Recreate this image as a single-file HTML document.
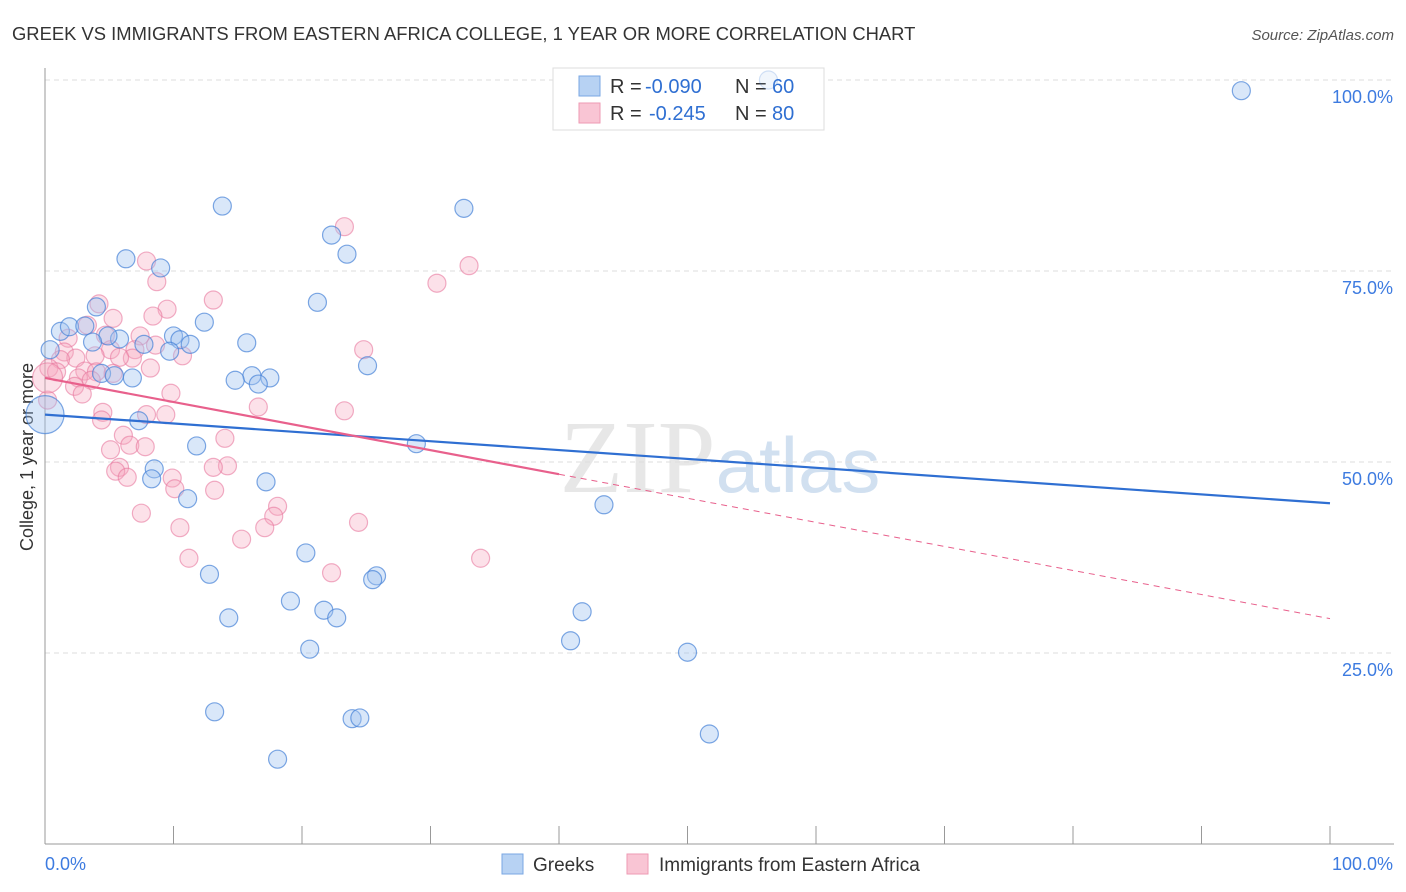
<!DOCTYPE html>
<html><head><meta charset="utf-8"><style>
body{margin:0;background:#fff;font-family:"Liberation Sans",sans-serif}
svg{display:block}
</style></head><body>
<svg id="chart" width="1406" height="892">
<text x="12" y="40" font-size="18.4" fill="#333">GREEK VS IMMIGRANTS FROM EASTERN AFRICA COLLEGE, 1 YEAR OR MORE CORRELATION CHART</text>
<text x="1394" y="40" font-size="15" fill="#555" font-style="italic" text-anchor="end">Source: ZipAtlas.com</text>
<text x="720" y="492" font-size="104" fill="#ccc" opacity="0.45" font-family="Liberation Serif,serif" text-anchor="middle">ZIP<tspan fill="#9bbbe0" font-family="Liberation Sans,sans-serif" font-size="78">atlas</tspan></text>
<text transform="translate(33,457) rotate(-90)" font-size="18" fill="#333" text-anchor="middle">College, 1 year or more</text>
<g id="grid"></g>
<g>
<rect x="553" y="68" width="271" height="62" fill="#fff" stroke="#ddd"/>
<rect x="579" y="76" width="21" height="20" fill="#b7d2f3" stroke="#7aa7e3"/>
<rect x="579" y="103" width="21" height="20" fill="#f9c5d4" stroke="#ee9ab3"/>
<text x="610" y="93" font-size="20" fill="#333">R =</text>
<text x="645" y="93" font-size="20" fill="#2f6fd2">-0.090</text>
<text x="735" y="93" font-size="20" fill="#333">N =</text>
<text x="772" y="93" font-size="20" fill="#2f6fd2">60</text>
<text x="610" y="120" font-size="20" fill="#333">R =</text>
<text x="649" y="120" font-size="20" fill="#2f6fd2">-0.245</text>
<text x="735" y="120" font-size="20" fill="#333">N =</text>
<text x="772" y="120" font-size="20" fill="#2f6fd2">80</text>
</g>
<g id="pts"></g><g id="lines"></g>
<g>
<rect x="502" y="854" width="21" height="20" fill="#b7d2f3" stroke="#7aa7e3"/>
<text x="533" y="871" font-size="19" fill="#333">Greeks</text>
<rect x="627" y="854" width="21" height="20" fill="#f9c5d4" stroke="#ee9ab3"/>
<text x="659" y="871" font-size="19" fill="#333">Immigrants from Eastern Africa</text>
</g>
</svg>
<script>
const blueX=[56.3,93.1,13.8,32.6,22.3,23.5,6.3,9.0,21.2,4.0,12.4,1.2,1.9,3.1,10.0,5.8,4.9,10.5,11.3,3.7,7.7,15.7,9.7,0.4,25.1,4.4,6.8,16.1,17.5,14.8,16.6,5.4,0,7.3,28.9,11.8,8.5,8.3,17.2,11.1,43.5,20.3,12.8,25.8,25.5,19.1,21.7,41.8,22.7,14.3,40.9,20.6,50.0,13.2,23.9,24.5,51.7,18.1];
const blueY=[100,98.6,83.5,83.2,79.7,77.2,76.6,75.4,70.9,70.3,68.3,67.1,67.7,67.8,66.5,66.1,66.5,66.0,65.4,65.7,65.4,65.6,64.5,64.7,62.6,61.6,61.0,61.3,61.0,60.7,60.2,61.3,56.2,55.4,52.4,52.1,49.1,47.8,47.4,45.2,44.4,38.1,35.3,35.1,34.6,31.8,30.6,30.4,29.6,29.6,26.6,25.5,25.1,17.3,16.4,16.5,14.4,11.1];
const pinkX=[23.3,33.0,7.9,8.7,30.5,13.1,4.2,9.5,5.3,8.4,3.3,7.4,4.7,1.8,8.6,7.0,5.1,1.5,24.8,10.7,6.8,3.9,5.8,2.4,1.2,8.2,0.3,0.9,3.1,4.0,5.3,2.6,3.6,2.3,2.9,9.8,0.2,16.6,4.5,23.3,7.9,9.4,4.4,6.1,14.0,6.6,7.8,5.1,14.2,13.1,5.8,5.5,9.9,6.4,10.1,13.2,18.1,17.8,7.5,24.4,17.1,10.5,15.3,11.2,33.9,22.3,0.2];
const pinkY=[80.8,75.7,76.3,73.6,73.4,71.2,70.7,70.0,68.8,69.1,67.9,66.5,66.6,66.2,65.3,64.7,64.7,64.4,64.7,63.9,63.6,63.9,63.7,63.6,63.4,62.3,62.3,61.8,61.9,61.8,61.6,61.0,60.7,59.9,58.9,59.0,58.1,57.2,56.5,56.7,56.2,56.2,55.5,53.5,53.1,52.2,52.0,51.6,49.5,49.3,49.3,48.8,47.9,48.0,46.5,46.3,44.2,42.9,43.3,42.1,41.4,41.4,39.9,37.4,37.4,35.5,61.0];
const yTicks=[100,75,50,25];
const yTickLabels=["100.0%","75.0%","50.0%","25.0%"];
const xLabels=["0.0%","100.0%"];
const blueTrend=[56.2,44.6];
const pinkTrend=[61.0,29.5];
const pinkSolidEnd=40;
const X=v=>45+v*12.85, Y=v=>844-v*7.64;
const NS="http://www.w3.org/2000/svg";
function mk(tag,attrs,parent){const e=document.createElementNS(NS,tag);for(const k in attrs)e.setAttribute(k,attrs[k]);parent.appendChild(e);return e;}
const grid=document.getElementById('grid');
yTicks.forEach((t,i)=>{
  const l=mk('line',{x1:45,x2:1394,y1:Y(t),y2:Y(t),stroke:'#ddd','stroke-dasharray':'5,4'},grid);
  
  
  const tx=mk('text',{x:1393,y:Y(t)+23,'font-size':18,fill:'#3d7be0','text-anchor':'end'},grid);
  tx.textContent=yTickLabels[i];
  
  
});
const ax=mk('line',{x1:45,x2:45,y1:68,y2:844,stroke:'#999'},grid);


const bx=mk('line',{x1:45,x2:1394,y1:844,y2:844,stroke:'#999'},grid);


for(let i=0;i<=10;i++){const t=mk('line',{x1:X(i*10),x2:X(i*10),y1:826,y2:844,stroke:'#999'},grid);

}
const xl0=mk('text',{x:45,y:870,'font-size':18,fill:'#3d7be0'},grid);xl0.textContent=xLabels[0];


const xl1=mk('text',{x:1393,y:870,'font-size':18,fill:'#3d7be0','text-anchor':'end'},grid);xl1.textContent=xLabels[1];


const pts=document.getElementById('pts');
pinkX.forEach((x,i)=>{const r=(i==pinkX.length-1)?15:9;
const c=mk('circle',{cx:X(x),cy:Y(pinkY[i]),r:r,fill:'rgba(246,168,193,0.35)',stroke:'rgba(232,120,158,0.6)','stroke-width':1.2},pts);

});
blueX.forEach((x,i)=>{const r=(x===0)?19:9;
const c=mk('circle',{cx:X(x),cy:Y(blueY[i]),r:r,fill:'rgba(160,195,240,0.4)',stroke:'rgba(70,130,215,0.7)','stroke-width':1.2},pts);
if(blueY[i]>=99.9){c.setAttribute('opacity','0.35');}

});
const lines=document.getElementById('lines');
const bl=mk('line',{x1:X(0),y1:Y(blueTrend[0]),x2:X(100),y2:Y(blueTrend[1]),stroke:'#2f6fd2','stroke-width':2.2},lines);


const pm=pinkTrend[0]+(pinkTrend[1]-pinkTrend[0])*pinkSolidEnd/100;
const pl=mk('line',{x1:X(0),y1:Y(pinkTrend[0]),x2:X(pinkSolidEnd),y2:Y(pm),stroke:'#e8608c','stroke-width':2.2},lines);


const pd=mk('line',{x1:X(pinkSolidEnd),y1:Y(pm),x2:X(100),y2:Y(pinkTrend[1]),stroke:'#e8608c','stroke-width':1,'stroke-dasharray':'6,5'},lines);


</script>
</body></html>
